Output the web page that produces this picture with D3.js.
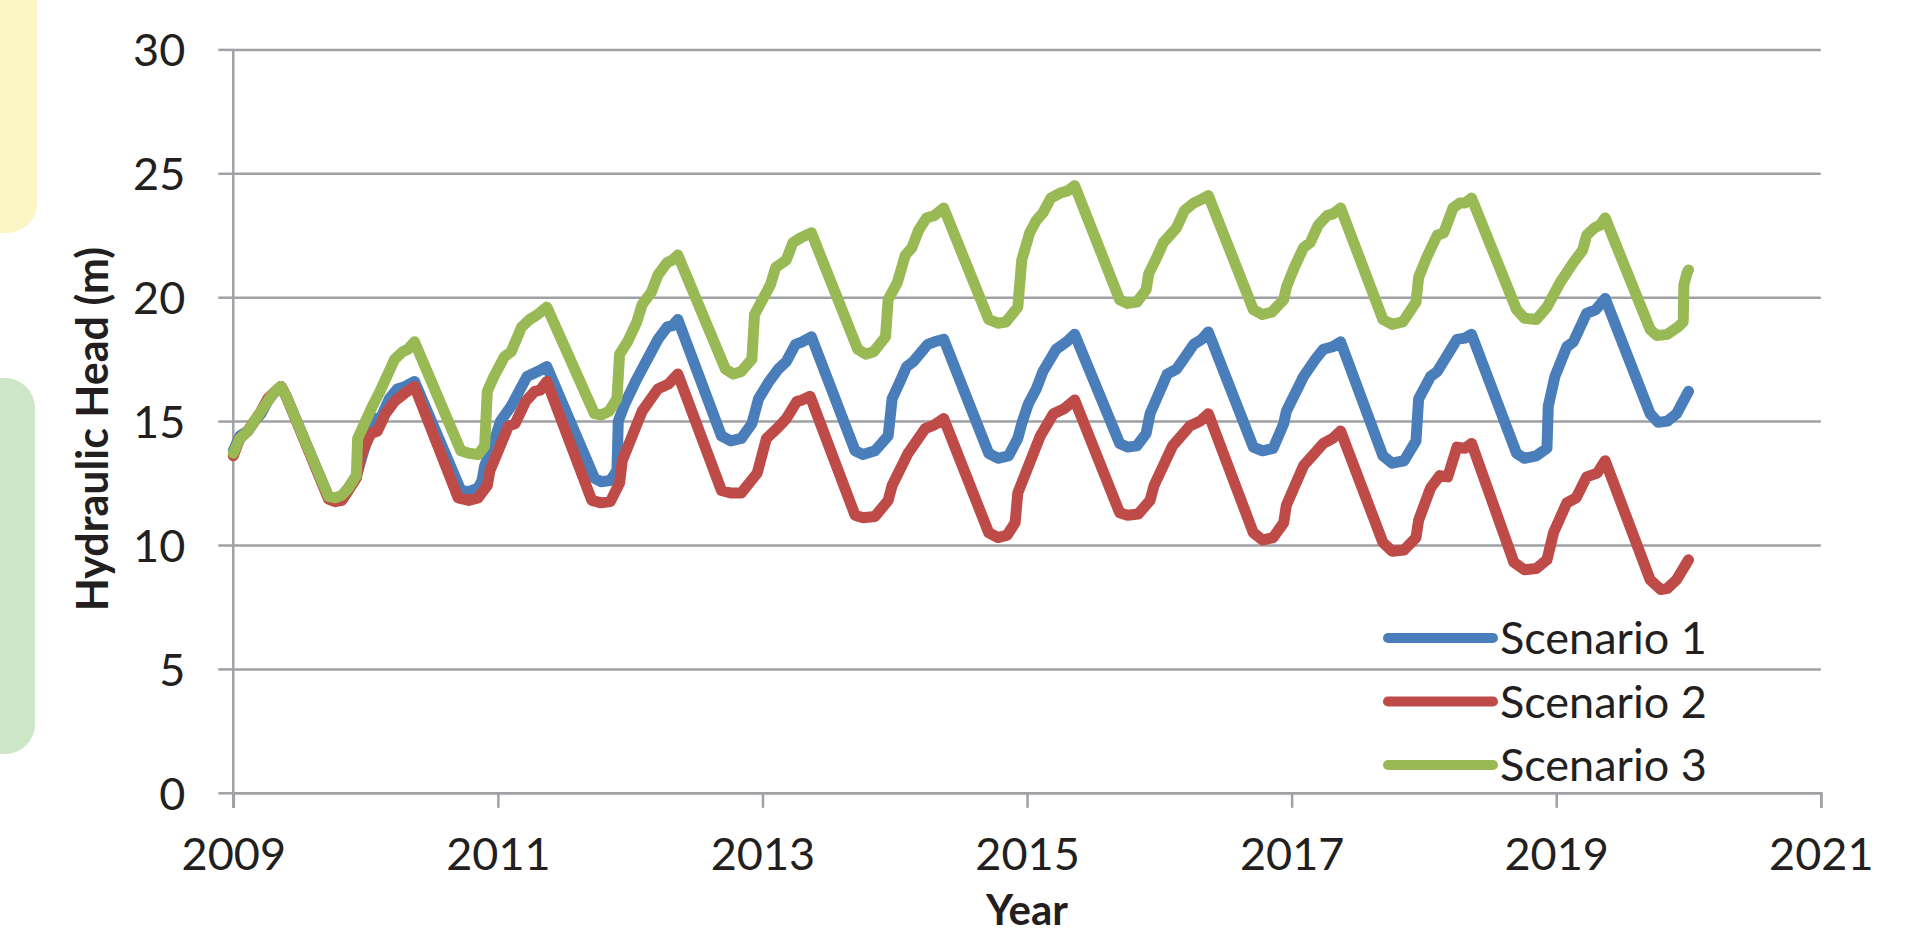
<!DOCTYPE html>
<html>
<head>
<meta charset="utf-8">
<script src="https://cdn.jsdelivr.net/npm/d3@7"></script>
<style>
  html, body { margin: 0; padding: 0; background: #ffffff; overflow: hidden; }
  svg { display: block; }
  text { font-family: Lato, "Open Sans", sans-serif; fill: #231f20; }
</style>
</head>
<body>
<svg id="chart" width="1915" height="937"></svg>
<script>
// Simulated hydraulic head, [decimal year, head in m]
const scenario1 = [
  [2009.00,13.8],[2009.05,14.4],[2009.11,14.6],[2009.16,15.0],[2009.21,15.3],[2009.26,15.8],[2009.30,16.1],[2009.36,16.4],[2009.40,16.0],
  [2009.72,11.95],[2009.77,11.85],[2009.82,11.95],[2009.87,12.3],[2009.93,12.8],[2009.97,13.5],[2010.03,14.6],[2010.08,15.1],[2010.12,15.2],[2010.18,15.9],[2010.24,16.3],[2010.30,16.4],[2010.37,16.6],
  [2010.72,12.2],[2010.78,12.15],[2010.85,12.3],[2010.88,12.6],[2010.90,13.2],[2010.96,14.0],[2011.02,15.0],[2011.10,15.6],[2011.16,16.2],[2011.22,16.8],[2011.30,17.0],[2011.37,17.2],
  [2011.73,12.7],[2011.78,12.55],[2011.85,12.6],[2011.90,13.0],[2011.91,15.0],[2011.96,15.7],[2012.05,16.7],[2012.11,17.3],[2012.21,18.3],[2012.28,18.8],[2012.32,18.85],[2012.36,19.1],
  [2012.69,14.4],[2012.76,14.2],[2012.84,14.3],[2012.92,14.9],[2012.97,15.9],[2013.05,16.6],[2013.12,17.1],[2013.18,17.4],[2013.25,18.1],[2013.30,18.2],[2013.37,18.4],
  [2013.70,13.8],[2013.76,13.65],[2013.85,13.8],[2013.95,14.4],[2013.98,15.9],[2014.04,16.6],[2014.09,17.2],[2014.14,17.4],[2014.25,18.1],[2014.30,18.2],[2014.37,18.3],
  [2014.71,13.7],[2014.78,13.5],[2014.86,13.6],[2014.93,14.3],[2014.96,14.9],[2015.01,15.7],[2015.07,16.3],[2015.12,17.0],[2015.22,17.9],[2015.30,18.2],[2015.36,18.5],
  [2015.70,14.1],[2015.76,13.95],[2015.83,14.0],[2015.90,14.5],[2015.93,15.3],[2016.06,16.9],[2016.13,17.1],[2016.26,18.1],[2016.32,18.3],[2016.37,18.6],
  [2016.71,13.95],[2016.78,13.8],[2016.86,13.9],[2016.94,14.9],[2016.96,15.4],[2017.09,16.8],[2017.18,17.5],[2017.24,17.9],[2017.31,18.0],[2017.37,18.2],
  [2017.69,13.6],[2017.76,13.3],[2017.85,13.4],[2017.94,14.2],[2017.96,15.9],[2018.05,16.8],[2018.10,17.0],[2018.17,17.6],[2018.25,18.3],[2018.31,18.35],[2018.36,18.5],
  [2018.70,13.7],[2018.76,13.5],[2018.85,13.6],[2018.93,13.9],[2018.94,15.6],[2018.99,16.8],[2019.08,18.0],[2019.13,18.2],[2019.23,19.35],[2019.30,19.5],[2019.37,19.95],
  [2019.71,15.3],[2019.77,14.95],[2019.84,15.0],[2019.91,15.3],[2020.00,16.2]
];

const scenario2 = [
  [2009.00,13.6],[2009.05,14.3],[2009.11,14.6],[2009.16,15.0],[2009.21,15.4],[2009.26,15.9],[2009.30,16.1],[2009.36,16.4],[2009.40,16.0],
  [2009.72,11.85],[2009.77,11.75],[2009.82,11.8],[2009.87,12.2],[2009.93,12.7],[2009.97,13.7],[2010.04,14.5],[2010.09,14.6],[2010.15,15.3],[2010.22,15.8],[2010.29,16.1],[2010.37,16.4],
  [2010.70,11.9],[2010.78,11.8],[2010.85,11.9],[2010.92,12.4],[2010.94,13.0],[2011.01,13.9],[2011.08,14.8],[2011.13,14.9],[2011.21,15.8],[2011.28,16.2],[2011.32,16.25],[2011.37,16.6],
  [2011.71,11.8],[2011.78,11.7],[2011.85,11.75],[2011.92,12.5],[2011.94,13.4],[2012.09,15.4],[2012.21,16.3],[2012.29,16.5],[2012.36,16.9],
  [2012.69,12.2],[2012.76,12.1],[2012.84,12.1],[2012.96,12.9],[2013.03,14.3],[2013.11,14.7],[2013.18,15.1],[2013.26,15.8],[2013.30,15.85],[2013.36,16.0],
  [2013.70,11.2],[2013.76,11.1],[2013.85,11.15],[2013.95,11.8],[2013.98,12.4],[2014.10,13.7],[2014.23,14.7],[2014.30,14.85],[2014.37,15.1],
  [2014.71,10.5],[2014.78,10.3],[2014.85,10.4],[2014.91,10.9],[2014.93,12.1],[2015.10,14.4],[2015.20,15.3],[2015.28,15.5],[2015.36,15.85],
  [2015.70,11.3],[2015.76,11.2],[2015.84,11.25],[2015.93,11.8],[2015.96,12.4],[2016.10,14.0],[2016.23,14.8],[2016.31,15.0],[2016.37,15.3],
  [2016.71,10.5],[2016.78,10.2],[2016.86,10.3],[2016.94,10.9],[2016.96,11.6],[2017.09,13.2],[2017.24,14.1],[2017.31,14.3],[2017.37,14.6],
  [2017.69,10.1],[2017.76,9.75],[2017.85,9.8],[2017.94,10.3],[2017.96,11.0],[2018.05,12.3],[2018.12,12.8],[2018.18,12.75],[2018.25,13.95],[2018.31,13.9],[2018.36,14.1],
  [2018.68,9.3],[2018.76,9.0],[2018.85,9.05],[2018.93,9.4],[2018.98,10.5],[2019.08,11.7],[2019.15,11.9],[2019.23,12.75],[2019.31,12.9],[2019.37,13.4],
  [2019.71,8.6],[2019.79,8.2],[2019.84,8.25],[2019.91,8.6],[2020.00,9.4]
];

const scenario3 = [
  [2009.00,13.7],[2009.05,14.3],[2009.11,14.6],[2009.16,15.0],[2009.21,15.4],[2009.26,15.8],[2009.30,16.1],[2009.36,16.4],[2009.40,16.0],
  [2009.72,11.95],[2009.77,11.9],[2009.82,12.0],[2009.87,12.3],[2009.93,12.8],[2009.94,14.3],[2010.00,15.0],[2010.06,15.7],[2010.10,16.1],[2010.16,16.8],[2010.22,17.5],[2010.28,17.8],[2010.32,17.9],[2010.37,18.2],
  [2010.72,13.8],[2010.78,13.7],[2010.85,13.65],[2010.90,14.0],[2010.92,16.2],[2010.97,16.8],[2011.05,17.6],[2011.10,17.8],[2011.18,18.8],[2011.24,19.1],[2011.30,19.3],[2011.37,19.6],
  [2011.73,15.3],[2011.78,15.25],[2011.84,15.4],[2011.90,15.9],[2011.92,17.7],[2011.98,18.2],[2012.05,19.0],[2012.09,19.7],[2012.16,20.2],[2012.21,20.9],[2012.28,21.4],[2012.32,21.5],[2012.36,21.7],
  [2012.72,17.1],[2012.78,16.9],[2012.84,17.0],[2012.92,17.5],[2012.94,19.3],[2013.00,19.9],[2013.06,20.5],[2013.10,21.2],[2013.18,21.5],[2013.23,22.2],[2013.29,22.4],[2013.37,22.6],
  [2013.72,17.9],[2013.78,17.7],[2013.84,17.8],[2013.93,18.4],[2013.95,19.9],[2014.02,20.6],[2014.08,21.7],[2014.13,22.0],[2014.18,22.7],[2014.24,23.2],[2014.30,23.3],[2014.37,23.6],
  [2014.71,19.1],[2014.78,18.95],[2014.84,19.0],[2014.93,19.6],[2014.96,21.5],[2015.02,22.6],[2015.07,23.1],[2015.12,23.4],[2015.18,24.0],[2015.25,24.2],[2015.31,24.3],[2015.36,24.5],
  [2015.70,19.9],[2015.76,19.75],[2015.83,19.8],[2015.90,20.3],[2015.92,20.95],[2015.98,21.6],[2016.03,22.2],[2016.08,22.5],[2016.13,22.8],[2016.19,23.5],[2016.26,23.8],[2016.30,23.9],[2016.37,24.1],
  [2016.71,19.5],[2016.78,19.3],[2016.85,19.4],[2016.94,19.9],[2016.96,20.4],[2017.02,21.2],[2017.09,22.0],[2017.14,22.2],[2017.20,22.9],[2017.27,23.3],[2017.31,23.35],[2017.37,23.6],
  [2017.69,19.1],[2017.76,18.9],[2017.84,19.0],[2017.94,19.8],[2017.96,20.8],[2018.02,21.6],[2018.10,22.5],[2018.15,22.6],[2018.22,23.6],[2018.27,23.8],[2018.31,23.8],[2018.36,24.0],
  [2018.70,19.5],[2018.76,19.15],[2018.85,19.1],[2018.93,19.6],[2019.03,20.6],[2019.13,21.4],[2019.20,21.9],[2019.23,22.5],[2019.29,22.8],[2019.33,22.9],[2019.37,23.2],
  [2019.71,18.7],[2019.76,18.45],[2019.84,18.5],[2019.92,18.8],[2019.96,19.0],[2019.965,20.5],[2019.99,21.0],[2020.00,21.1]
];

const seriesNames = ["Scenario 1", "Scenario 2", "Scenario 3"];
const seriesColors = ["#4a7ebb", "#be4b48", "#98b954"];
const xTicks = [2009, 2011, 2013, 2015, 2017, 2019, 2021];
const yTicks = [0, 5, 10, 15, 20, 25, 30];

const svg = d3.select("#chart");

// Page decoration panels at the left margin
svg.append("rect").attr("x", -40).attr("y", -40).attr("width", 77).attr("height", 273)
  .attr("rx", 30).attr("fill", "#fcf6c4");
svg.append("rect").attr("x", -40).attr("y", 378).attr("width", 75).attr("height", 376)
  .attr("rx", 30).attr("fill", "#cde6c6");

const margin = { left: 233.3, right: 1820.8, top: 49.4, bottom: 792.8 };
const x = d3.scaleLinear().domain([2009, 2021]).range([margin.left, margin.right]);
const y = d3.scaleLinear().domain([0, 30]).range([margin.bottom, margin.top]);

const gridColor = "#a0a1a5";

// Horizontal gridlines
const yAxis = d3.axisLeft(y).tickValues(yTicks).tickSize(15).tickPadding(33).tickFormat(d3.format("d"));
const gy = svg.append("g").attr("transform", `translate(${margin.left},0)`).call(yAxis);
gy.select(".domain").remove();
gy.selectAll(".tick line").attr("stroke", gridColor).attr("stroke-width", 2.5);
gy.selectAll(".tick text").attr("font-size", 45).attr("fill", "#231f20").attr("dy", "0.36em");
gy.selectAll(".tick").append("line")
  .attr("x1", 0).attr("x2", margin.right - margin.left)
  .attr("stroke", gridColor).attr("stroke-width", 2.5);

// Vertical axis line
svg.append("line").attr("x1", margin.left).attr("x2", margin.left)
  .attr("y1", margin.top).attr("y2", margin.bottom + 15)
  .attr("stroke", gridColor).attr("stroke-width", 2.5);

// Bottom axis
const xAxis = d3.axisBottom(x).tickValues(xTicks).tickSize(15).tickPadding(30).tickFormat(d3.format("d"));
const gx = svg.append("g").attr("transform", `translate(0,${margin.bottom})`).call(xAxis);
gx.select(".domain").attr("stroke", gridColor).attr("stroke-width", 2.5);
gx.selectAll(".tick line").attr("stroke", gridColor).attr("stroke-width", 2.5);
gx.selectAll(".tick text").attr("font-size", 45).attr("fill", "#231f20");

// Axis titles
svg.append("text")
  .attr("transform", `translate(108,${(margin.top + margin.bottom) / 2 + 8}) rotate(-90)`)
  .attr("text-anchor", "middle").attr("font-size", 43).attr("font-weight", "bold")
  .text("Hydraulic Head (m)");
svg.append("text")
  .attr("x", (margin.left + margin.right) / 2).attr("y", 925)
  .attr("text-anchor", "middle").attr("font-size", 42).attr("font-weight", "bold")
  .text("Year");

// Series lines
const line = d3.line().x(d => x(d[0])).y(d => y(d[1]));
const allSeries = [scenario1, scenario2, scenario3];
svg.append("g").selectAll("path").data(allSeries).join("path")
  .attr("d", line)
  .attr("fill", "none")
  .attr("stroke", (d, i) => seriesColors[i])
  .attr("stroke-width", 11)
  .attr("stroke-linejoin", "round")
  .attr("stroke-linecap", "round");

// Legend
const legend = svg.append("g").selectAll("g").data(seriesNames).join("g")
  .attr("transform", (d, i) => `translate(1388,${638 + i * 63.5})`);
legend.append("line").attr("x1", 0).attr("x2", 105)
  .attr("stroke", (d, i) => seriesColors[i]).attr("stroke-width", 10).attr("stroke-linecap", "round");
legend.append("text").attr("x", 112).attr("dy", "0.36em").attr("font-size", 45).text(d => d);
</script>
</body>
</html>
